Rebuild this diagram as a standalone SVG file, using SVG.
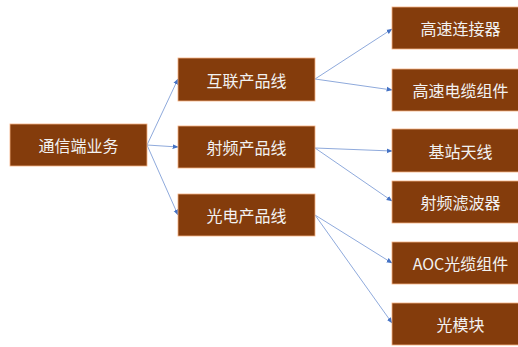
<svg xmlns="http://www.w3.org/2000/svg" width="518" height="347" viewBox="0 0 518 347">
<style>
.box{fill:#843C0C;stroke:#F4B183;stroke-width:0.8}
.t{font-family:"Noto Sans CJK SC","Liberation Sans",sans-serif;font-size:16px;fill:#F2F2F2;text-anchor:middle;dominant-baseline:central}
.c{stroke:#8FAADC;stroke-width:1;fill:none;marker-end:url(#a)}
</style>
<defs>
<marker id="a" viewBox="0 0 10 10" refX="9" refY="5" markerWidth="6" markerHeight="6" markerUnits="userSpaceOnUse" orient="auto">
<path d="M0,1 L10,5 L0,9 z" fill="#4472C4"/>
</marker>
</defs>
<rect width="518" height="347" fill="#FFFFFF"/>
<g id="connectors">
<line class="c" x1="147" y1="145" x2="178" y2="79"/>
<line class="c" x1="147" y1="145" x2="178" y2="147"/>
<line class="c" x1="147" y1="145" x2="178" y2="215"/>
<line class="c" x1="315" y1="79" x2="392" y2="29"/>
<line class="c" x1="315" y1="79" x2="392" y2="90"/>
<line class="c" x1="315" y1="148" x2="392" y2="151"/>
<line class="c" x1="315" y1="148" x2="392" y2="201"/>
<line class="c" x1="315" y1="215" x2="392" y2="263"/>
<line class="c" x1="315" y1="215" x2="392" y2="323"/>
</g>
<g id="root"><rect class="box" x="10" y="124" width="137" height="42"/><text class="t" x="78.5" y="145">通信端业务</text></g>
<g id="n1"><rect class="box" x="178" y="58" width="137" height="43"/><text class="t" x="246.5" y="79.5">互联产品线</text></g>
<g id="n2"><rect class="box" x="178" y="126" width="137" height="42"/><text class="t" x="246.5" y="147">射频产品线</text></g>
<g id="n3"><rect class="box" x="178" y="194" width="137" height="42"/><text class="t" x="246.5" y="215">光电产品线</text></g>
<g id="r1"><rect class="box" x="392" y="7" width="137" height="42"/><text class="t" x="460.5" y="28">高速连接器</text></g>
<g id="r2"><rect class="box" x="392" y="69" width="137" height="42"/><text class="t" x="460.5" y="90">高速电缆组件</text></g>
<g id="r3"><rect class="box" x="392" y="129" width="137" height="43"/><text class="t" x="460.5" y="150.5">基站天线</text></g>
<g id="r4"><rect class="box" x="392" y="181" width="137" height="42"/><text class="t" x="460.5" y="202">射频滤波器</text></g>
<g id="r5"><rect class="box" x="392" y="242" width="137" height="42"/><text class="t" x="460.5" y="263">AOC光缆组件</text></g>
<g id="r6"><rect class="box" x="392" y="303" width="137" height="42"/><text class="t" x="460.5" y="324">光模块</text></g>
</svg>
